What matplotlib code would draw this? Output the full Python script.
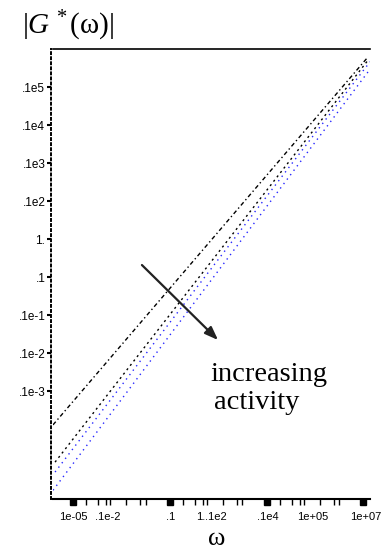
import numpy as np
import matplotlib
matplotlib.use("Agg")
import matplotlib.pyplot as plt
import matplotlib.transforms as mtransforms
from matplotlib.ticker import FixedLocator, FixedFormatter, NullFormatter

plt.rcParams['mathtext.fontset'] = 'custom'
plt.rcParams['mathtext.rm'] = 'Liberation Serif'
plt.rcParams['mathtext.it'] = 'Liberation Serif:italic'

# ---- data ----
omega_1 = [1.48e-6, 1.55e7]
g_1 = [1.29e-4, 6.2e5]
omega_2 = [1.8e-6, 1.55e7]
g_2 = [1.35e-5, 5.1e5]
omega_3 = [1.8e-6, 1.86e7]
g_3 = [7.4e-6, 4.6e5]
omega_4 = [1.48e-6, 2.3e7]
g_4 = [2.45e-6, 3.5e5]

xtick_values = [1e-5, 2.8e-4, 0.11, 1.8, 8.1, 1.15e3, 8.3e4, 1.2e7]
xtick_labels = ["1e-05", ".1e-2", ".1", "1.", ".1e2", ".1e4", "1e+05", "1e+07"]
ytick_values = [1e5, 1e4, 1e3, 1e2, 1e1, 1e0, 1e-1, 1e-2, 1e-3]
ytick_labels = [".1e5", ".1e4", ".1e3", ".1e2", "1.", ".1", ".1e-1", ".1e-2", ".1e-3"]

arrow_start = (7e-3, 2.07)
arrow_end = (9.8, 0.022)

fig = plt.figure(figsize=(3.86, 5.5), dpi=100)
ax = fig.add_axes([53/386, 1-499/550, (370-53)/386, (499-49)/550])
ax.set_xscale('log')
ax.set_yscale('log')
ax.set_xlim(10**-5.83, 10**7.27)
ax.set_ylim(10**-5.84, 10**6.0)

ax.plot(omega_1, g_1, color='black', lw=1.0, ls=(0, (3, 2, 1, 2)))
ax.plot(omega_2, g_2, color='black', lw=1.0, ls=(0, (1.5, 2.5)))
ax.plot(omega_3, g_3, color='#2828ff', lw=1.0, ls=(0, (1, 3)))
ax.plot(omega_4, g_4, color='#2828ff', lw=1.0, ls=(0, (1, 3)))

ax.annotate('', xy=arrow_end, xytext=arrow_start,
            arrowprops=dict(arrowstyle='-|>,head_length=0.8,head_width=0.3',
                            color='#222222', lw=1.6, shrinkA=0, shrinkB=0))

# spines
ax.spines['right'].set_visible(False)
ax.spines['top'].set_linewidth(1.2)
ax.spines['bottom'].set_linewidth(1.5)
ax.spines['left'].set_linestyle((0, (1, 1.6)))
ax.spines['left'].set_linewidth(1.4)
ax.spines['left'].set_position(('outward', 1.5))

# x ticks
ax.xaxis.set_major_locator(FixedLocator(xtick_values))
ax.xaxis.set_major_formatter(FixedFormatter(xtick_labels))
minor = []
for base in (-5, -1, 3):
    for off in (0.54, 1.03, 1.36, 1.53, 2.19, 2.77, 3.0):
        minor.append(10**(base + off))
ax.xaxis.set_minor_locator(FixedLocator(minor))
ax.xaxis.set_minor_formatter(NullFormatter())
ax.tick_params(axis='x', which='major', length=0, pad=9, labelsize=8)
ax.tick_params(axis='x', which='minor', length=4, width=1.0, direction='out')
for lab in ax.get_xticklabels():
    lab.set_fontfamily('Liberation Sans')
trans = mtransforms.blended_transform_factory(ax.transData, ax.transAxes)
ax.plot([1e-5, 1e-1, 1e3, 1e7], [-0.006]*4, ls='none', marker='s', ms=4.5,
        color='black', transform=trans, clip_on=False)

# y ticks
ax.yaxis.set_major_locator(FixedLocator(ytick_values))
ax.yaxis.set_major_formatter(FixedFormatter(ytick_labels))
ax.yaxis.set_minor_locator(FixedLocator([]))
ax.tick_params(axis='y', which='major', length=3, width=1.5, pad=1, labelsize=8.5)
for lab in ax.get_yticklabels():
    lab.set_fontfamily('Liberation Sans')

# texts
fig.text(22/386, 1-34/550, r'$|G^{\,*}(\mathrm{ω})|$', fontsize=21, ha='left', va='baseline')
fig.text(217/386, 1-539/550, 'ω', fontsize=19, family='Liberation Serif', ha='center', va='center')
fig.text(210/386, 1-381/550, 'increasing', fontsize=20.5, family='Liberation Serif', ha='left', va='baseline')
fig.text(214/386, 1-409/550, 'activity', fontsize=20.5, family='Liberation Serif', ha='left', va='baseline')

fig.savefig('out.png', dpi=100)
